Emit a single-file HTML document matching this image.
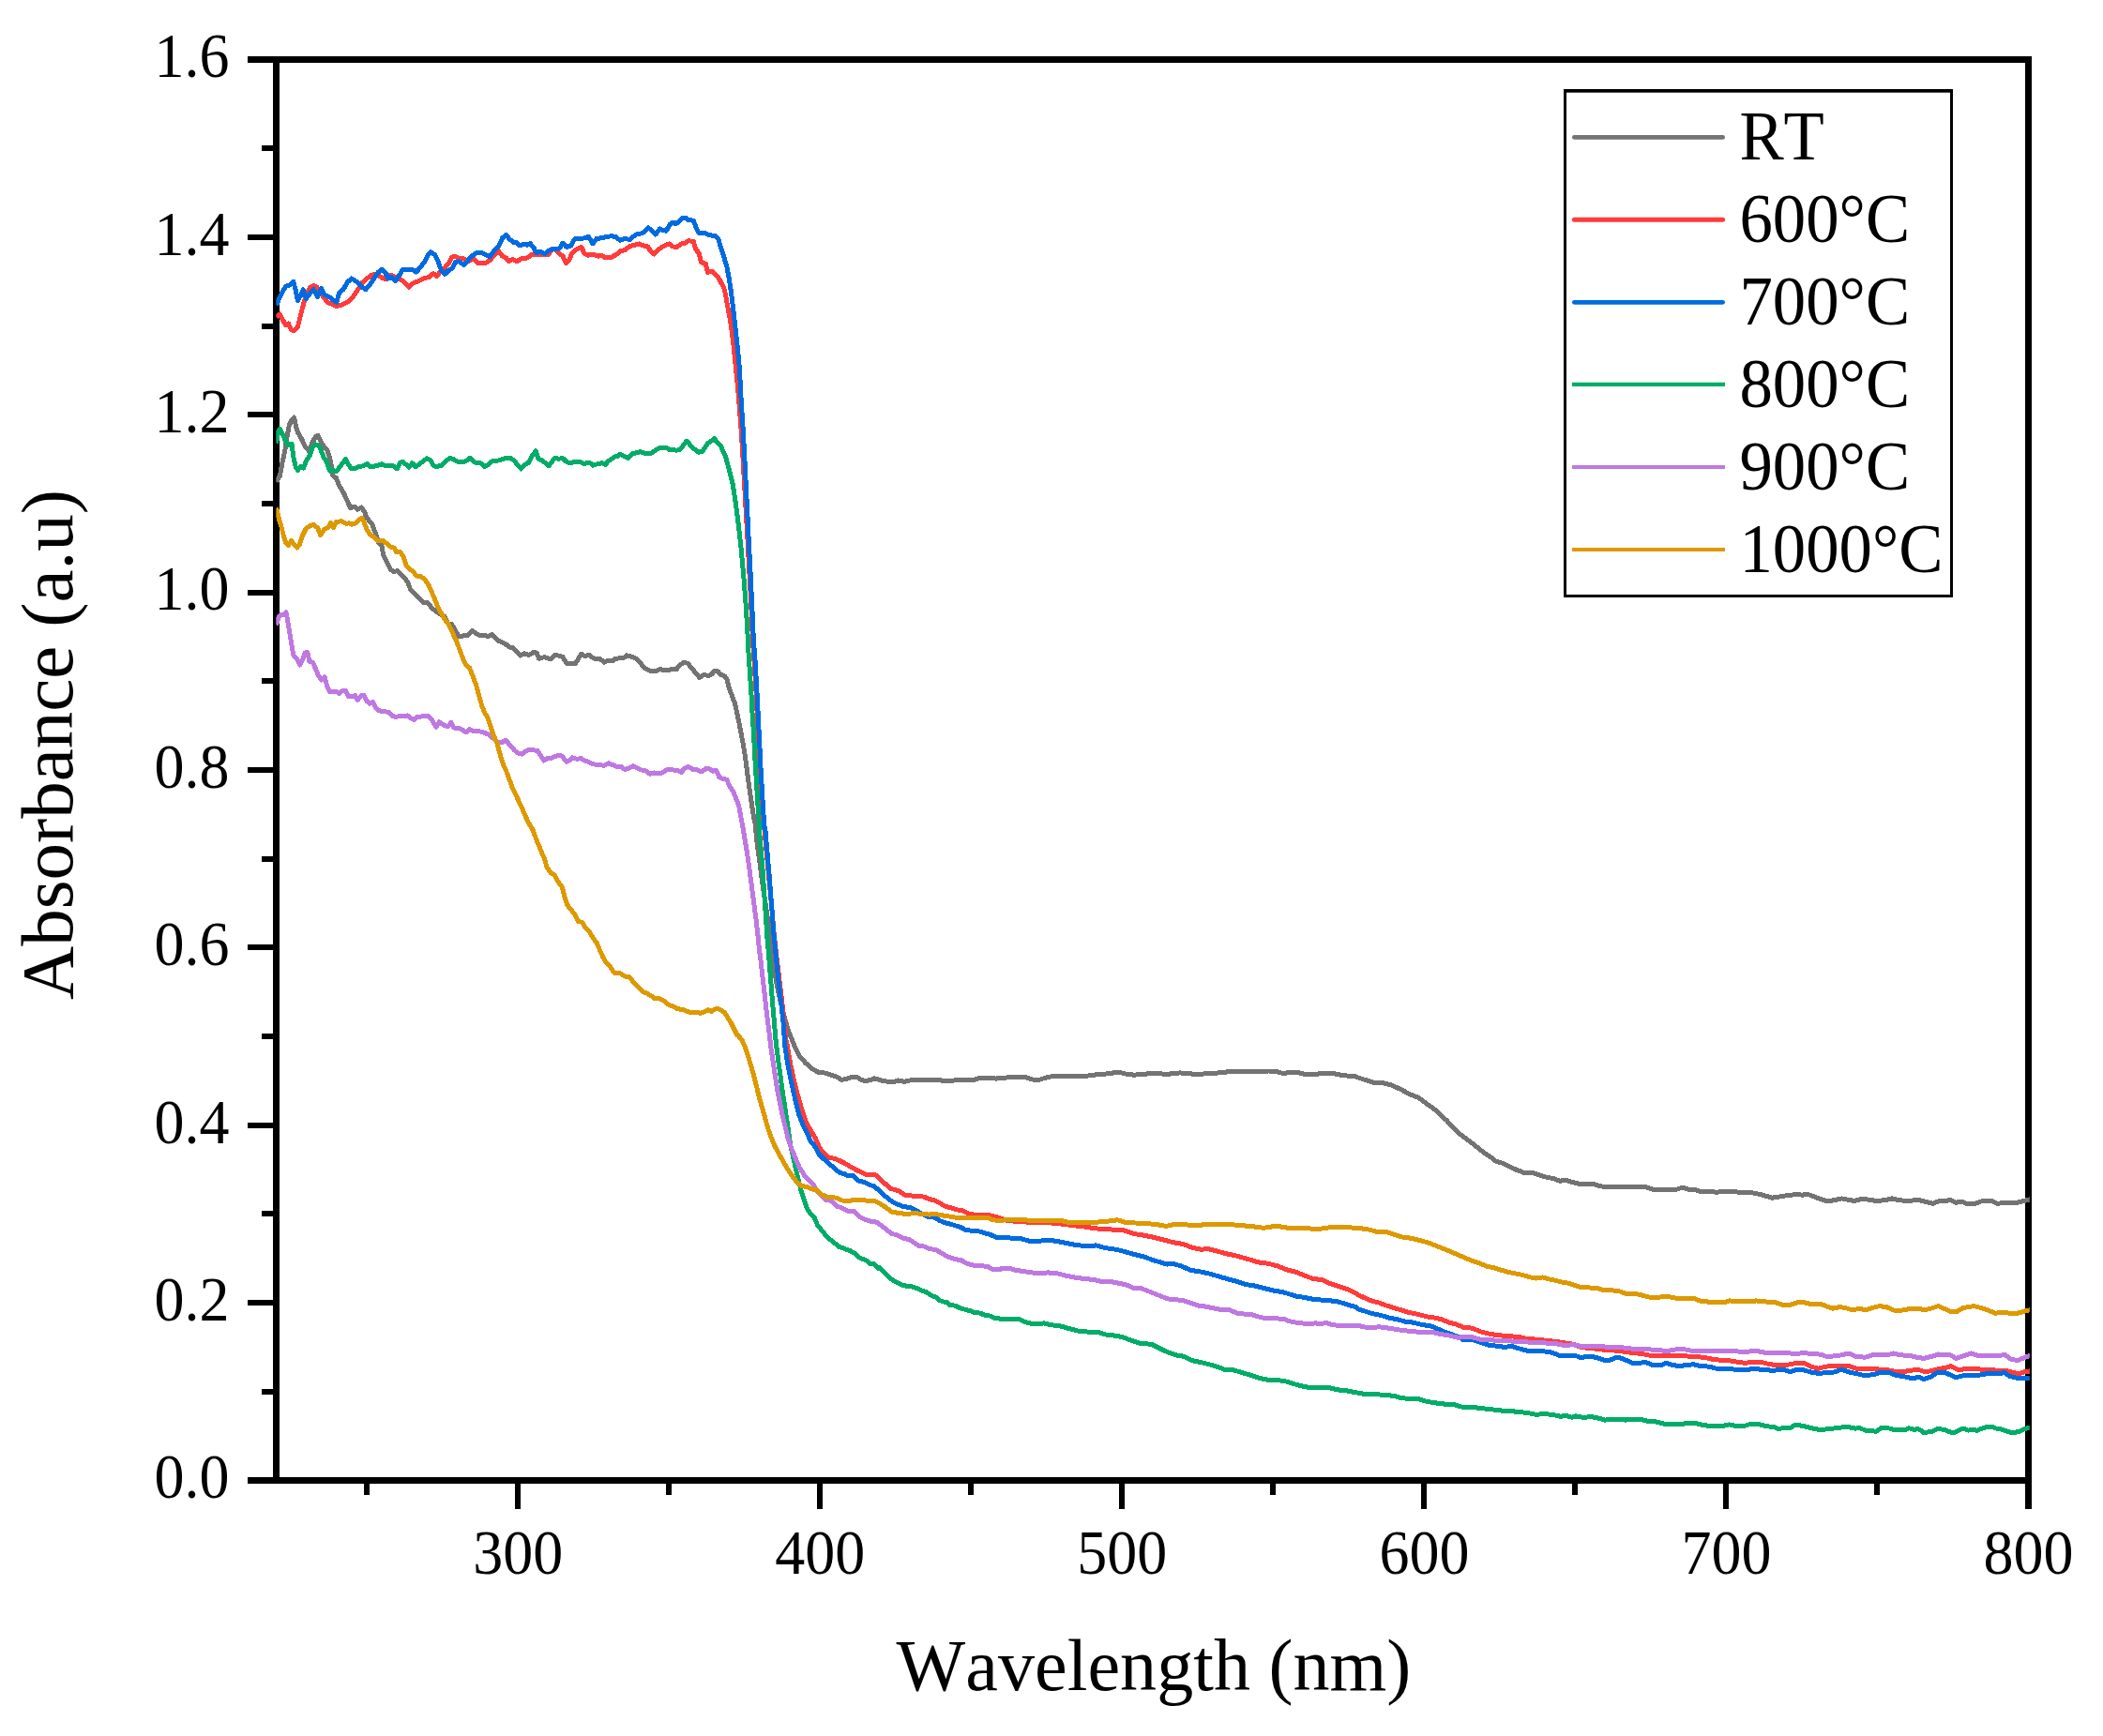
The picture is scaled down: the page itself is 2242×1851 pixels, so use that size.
<!DOCTYPE html>
<html lang="en"><head><meta charset="utf-8"><title>Absorbance vs Wavelength</title>
<style>html,body{margin:0;padding:0;background:#fff}body{width:2242px;height:1851px;overflow:hidden}svg{display:block}text{font-family:"Liberation Serif","Times New Roman",serif;fill:#000;font-kerning:none}</style>
</head><body>
<svg width="2242" height="1851" viewBox="0 0 2242 1851">
<rect x="0" y="0" width="2242" height="1851" fill="#fff"/>
<g fill="#000" shape-rendering="crispEdges">
<rect x="291" y="60" width="1875" height="7"/>
<rect x="291" y="1575" width="1875" height="7"/>
<rect x="291" y="60" width="7" height="1522"/>
<rect x="2159" y="60" width="7" height="1522"/>
<rect x="264" y="1575" width="28" height="7"/>
<rect x="279" y="1481" width="13" height="6"/>
<rect x="264" y="1386" width="28" height="6"/>
<rect x="279" y="1291" width="13" height="6"/>
<rect x="264" y="1197" width="28" height="6"/>
<rect x="279" y="1102" width="13" height="6"/>
<rect x="264" y="1007" width="28" height="6"/>
<rect x="279" y="913" width="13" height="6"/>
<rect x="264" y="818" width="28" height="6"/>
<rect x="279" y="723" width="13" height="6"/>
<rect x="264" y="629" width="28" height="6"/>
<rect x="279" y="534" width="13" height="6"/>
<rect x="264" y="439" width="28" height="6"/>
<rect x="279" y="345" width="13" height="6"/>
<rect x="264" y="250" width="28" height="6"/>
<rect x="279" y="155" width="13" height="6"/>
<rect x="264" y="60" width="28" height="7"/>
<rect x="388" y="1581" width="6" height="13"/>
<rect x="549" y="1581" width="6" height="28"/>
<rect x="710" y="1581" width="6" height="13"/>
<rect x="871" y="1581" width="6" height="28"/>
<rect x="1032" y="1581" width="6" height="13"/>
<rect x="1193" y="1581" width="6" height="28"/>
<rect x="1354" y="1581" width="6" height="13"/>
<rect x="1515" y="1581" width="6" height="28"/>
<rect x="1676" y="1581" width="6" height="13"/>
<rect x="1837" y="1581" width="6" height="28"/>
<rect x="1998" y="1581" width="6" height="13"/>
<rect x="2159" y="1581" width="7" height="28"/>
</g>
<g font-size="67">
<text transform="translate(244.4 1597.2) scale(0.955 1)" text-anchor="end">0.0</text>
<text transform="translate(244.4 1407.8) scale(0.955 1)" text-anchor="end">0.2</text>
<text transform="translate(244.4 1218.5) scale(0.955 1)" text-anchor="end">0.4</text>
<text transform="translate(244.4 1029.1) scale(0.955 1)" text-anchor="end">0.6</text>
<text transform="translate(244.4 839.7) scale(0.955 1)" text-anchor="end">0.8</text>
<text transform="translate(244.4 650.3) scale(0.955 1)" text-anchor="end">1.0</text>
<text transform="translate(244.4 460.9) scale(0.955 1)" text-anchor="end">1.2</text>
<text transform="translate(244.4 271.6) scale(0.955 1)" text-anchor="end">1.4</text>
<text transform="translate(244.4 82.2) scale(0.955 1)" text-anchor="end">1.6</text>
<text transform="translate(552.2 1678) scale(0.955 1)" text-anchor="middle">300</text>
<text transform="translate(874.2 1678) scale(0.955 1)" text-anchor="middle">400</text>
<text transform="translate(1196.3 1678) scale(0.955 1)" text-anchor="middle">500</text>
<text transform="translate(1518.4 1678) scale(0.955 1)" text-anchor="middle">600</text>
<text transform="translate(1840.4 1678) scale(0.955 1)" text-anchor="middle">700</text>
<text transform="translate(2162.5 1678) scale(0.955 1)" text-anchor="middle">800</text>
</g>
<text transform="translate(955.6 1801.6) scale(0.989 1)" font-size="79">Wavelength (nm)</text>
<text transform="translate(76.9 1065.9) rotate(-90)" font-size="79">Absorbance (a.u)</text>
<clipPath id="cp"><rect x="294.3" y="0" width="1869.5" height="1851"/></clipPath>
<g fill="none" stroke-linejoin="round" stroke-linecap="butt" clip-path="url(#cp)" shape-rendering="crispEdges">
<polyline stroke="#737373" stroke-width="5" points="294.5,513.6 298.4,507.5 300.7,494.6 303.7,480.9 306,465.6 308.3,453.5 311.3,447.4 313.6,445.1 315.6,455 317.4,461.1 321.2,467.2 325,475.5 329.3,480.9 333.4,471 336.4,465.6 339,464.1 341.7,470.2 345.5,476.3 349.3,480.9 352.4,491.5 354.7,506.7 358.5,509.8 361.5,517.4 366.1,525 369.9,533.4 373.7,541.7 378.3,540.2 381.3,543.3 385.1,541 388.9,546.3 391.2,552.4 396.5,558.5 400.3,568.4 403.4,578.3 407.2,582.8 408.7,591.9 411.7,598 416.3,607.2 419.3,609.4 423.9,608.7 427.7,612.5 431.5,616.3 434.6,620.9 437.6,628.5 442.2,633 446.7,637.6 451.3,642.2 455.9,642.9 460.4,648.2 465,652 469.6,655.1 474.1,657.4 477.9,665 481.7,665.7 485.5,672.6 489.3,678.7 493.9,677.9 499.2,677.2 503.8,672.6 507.6,675.6 512.2,677.9 516.7,677.2 520.5,678.7 524.3,676.4 528.1,680.2 531.9,684 533.5,683.9 539.5,687 542.6,690 546.4,690.3 550.2,694.6 554.8,699.1 558.6,696.8 563.9,698.4 569.2,695.3 572.3,696.1 574.5,702.2 580.6,700.6 586.7,702.9 592,698.4 595.8,699.1 600,700.4 603.8,707.3 609.1,707.3 613.7,707.3 616.7,702 619.8,697.1 623.6,699.7 628.2,698.2 632.7,702 639.6,702.3 644.1,706.2 648.7,704.2 652.5,705 656.3,702.3 661.6,701.7 665.4,701.2 668.2,698.9 673,700.1 677.6,702 682.2,706.5 687.5,712.3 692.8,715.3 698.9,716 703.5,713.4 708,714.9 712.6,714.4 717.2,713.4 721,713.8 724,709.6 729.3,706.2 733.1,707.3 736.9,711.8 741.5,717.2 745.8,722.5 750.6,719.5 755.2,720.5 759,718.7 761.3,715.6 765.1,715.6 768.9,719.5 772.7,721 775,724 777.3,733.9 780.3,741.5 783.4,749.9 785.6,759.8 787.9,770.4 790.2,782.6 792.5,794.8 794.5,806.9 796.3,820.6 797.8,832.8 799.6,845 801.6,858.7 803.6,872.4 804.8,875.2 807,898 810.1,920.9 812.4,939.1 815.4,958.9 818.5,980.2 820.7,996.9 823,1015.2 825.3,1031.9 828.3,1050.2 832.2,1068.5 836,1083.7 840.5,1098.9 844.5,1109.1 848.3,1118.3 852.8,1126.6 858.9,1133.5 865.8,1139.6 872.6,1143.4 880.2,1144.1 886.3,1146.4 892.4,1148.4 896.9,1151.4 903,1150.2 908.4,1148.4 913.7,1148.7 918.3,1151.4 922.8,1152.5 927.4,1151.7 931.9,1149.9 936.5,1151 941.1,1152.5 947.2,1153.3 953.2,1153.3 957.8,1152 963.9,1153.3 968.5,1152.5 973,1151 979.1,1151 988.2,1151 997.4,1151 1003.5,1152 1009.5,1153 1017.2,1152 1024.8,1151 1029.3,1151 1033.9,1152 1040,1151 1044.5,1149 1052.2,1149 1058.2,1149.5 1062,1150.2 1065.8,1149 1070.4,1149.5 1075,1148.7 1080,1148.4 1082.8,1148 1092.3,1148.4 1099.9,1150.9 1107.6,1151.5 1115.2,1149 1124.7,1147.1 1136.1,1147.1 1145.6,1148 1155.1,1147.7 1166.5,1146.1 1177.9,1145.2 1187.4,1143.9 1193.1,1143.3 1200.8,1145.2 1208.4,1146.1 1217.9,1145.8 1227.4,1144.2 1236.9,1144.6 1242.6,1145.8 1250.2,1144.6 1257.8,1143.9 1267.3,1144.6 1276.8,1145.8 1286.3,1144.6 1295.9,1144.2 1305.4,1143.3 1314.9,1142 1324.4,1142.3 1333.9,1142.7 1343.4,1142.3 1352.9,1142 1360.5,1142.3 1368.1,1144.6 1375.7,1143.3 1385.2,1143.9 1392.9,1145.8 1402.4,1145.2 1411.9,1144.6 1421.4,1144.6 1429,1146.1 1436.6,1147.1 1444.2,1147.7 1451.8,1150.3 1460,1152.8 1464.7,1154.6 1474.2,1154.6 1483.7,1157.1 1493.3,1161.5 1502.8,1166.6 1512.3,1170.4 1519.9,1176.1 1527.5,1181.2 1535.1,1188.1 1542.7,1195.1 1550.3,1203.7 1557.9,1210.3 1565.5,1216.1 1573.1,1221.8 1580.8,1228 1588.4,1233.2 1595,1238.3 1601.7,1240.2 1609.3,1244 1616.9,1247.4 1624.5,1250.3 1634,1250.3 1641.6,1253.1 1649.2,1255.4 1656.8,1256.6 1662.5,1259.2 1670.1,1258.5 1675.9,1260.4 1683.5,1262.3 1691.1,1262.3 1698.7,1262.3 1706.3,1264.9 1715.8,1265.5 1725.3,1265.5 1736.7,1265.5 1746.2,1265.5 1753.8,1265.5 1761.4,1268 1771,1268 1780.5,1268 1788.1,1268 1793.8,1266.1 1799.5,1268 1807.1,1268.7 1812.8,1270.3 1820.4,1270.3 1829.9,1271.2 1840,1270.3 1847.6,1270.3 1857.1,1271.8 1866.6,1271.5 1876.1,1273.4 1883.7,1275.6 1889.4,1277.2 1897,1276 1904.6,1274.7 1914.1,1273.7 1921.7,1274.1 1927.4,1273.4 1933.1,1275.6 1940.8,1278.5 1948.4,1281 1956,1279.5 1963.6,1277.9 1971.2,1279.5 1976.9,1280.4 1984.5,1278.5 1992.1,1279.1 1999.7,1280.4 2009.2,1279.8 2016.8,1277.9 2024.4,1279.8 2034,1280.4 2045.4,1279.5 2053,1281.4 2060.6,1283.3 2066.3,1281 2073.9,1280.4 2079.6,1279.5 2085.3,1282.3 2091,1281 2096.7,1283.3 2106.2,1283.3 2111.9,1281 2123.3,1280.4 2129.1,1283.3 2138.6,1282.3 2148.1,1282.9 2155.7,1281 2165.5,1278.5"/>
<polyline stroke="#FF3B3B" stroke-width="5" points="294.5,338 298.4,335 301.4,341.1 304.5,346.4 307.5,344.9 310.5,351.7 313.6,352.5 317.4,348.7 320.4,336.5 323.5,324.3 326.5,315.2 330.3,306.8 334.1,304.6 337.9,306.1 341.7,312.2 345.5,317.5 349.3,322.8 353.9,324.3 358.5,326.6 364.6,325.1 370.6,322.1 376.7,316 381.3,309.1 385.9,301.5 390.4,297.7 396.5,293.1 401.8,292.4 407.2,296.2 411.7,297.7 416.3,293.1 420.9,295.4 426.9,297.7 431.5,301.5 435.8,306.1 439.9,302.3 445.2,300 451.3,297 457.4,295.4 461.9,291.6 465.7,294.7 469.6,289.3 474.1,285.5 478.7,280.2 481.7,274.1 485.5,273.4 489.3,275.6 493.9,275.6 499.2,278.7 504.6,275.6 509.1,280.2 513.7,281 518.2,280.2 522.8,277.2 527.4,271.1 531.2,267.3 535,272.6 539.5,274.9 542.6,278.7 546.4,276.4 551,278.7 556.3,275.6 562.4,274.9 566.9,271.1 571.5,271.8 579.1,271.4 585.2,271.1 588.2,265.8 592,265 595.8,270.3 600,272.8 603.3,280.4 606.8,277.4 609.9,269.8 614.5,266 619.8,263.4 622.8,269.8 626.6,272.1 632.7,271.3 638,273.1 641.1,272.1 644.9,274.6 651.7,274.3 657.8,271 661.6,267.5 666.2,266.7 671.5,262.5 676.1,261.4 681.4,259.9 686,261.9 690.5,262.9 694,268.3 697.1,271 701.2,266.7 705.8,263.4 709.6,261.4 713.4,259.9 717.2,262.9 721.7,263.4 726.3,259.9 730.1,259.4 733.9,256.8 739.2,257.3 741.5,265.2 745.3,270.5 747.6,279.7 752.2,281.2 754.4,290.3 759,289.3 763.6,293.4 766.6,297.2 768.9,301.7 771.6,306.3 773.5,313.9 775.3,324.6 778,338.3 780.3,353.5 782.3,370.2 783.8,385.4 785.3,400.6 786.9,417.4 788.4,435.2 790.1,458 791.6,480.9 792.9,503.7 794.2,526.5 795.5,549.3 796.9,572.2 798.1,595 799.3,617.8 800.6,640.6 801.6,663.5 802.5,684 803.7,700.4 805.7,730.9 807.2,761.3 808.9,791.7 810.4,822.2 812.4,852.6 814.2,883 814.8,882.8 816.9,905.6 819.1,928.5 821.2,951.3 823.3,974.1 825.3,996.9 827.9,1019.8 830.6,1042.6 833.4,1065.4 836,1088.2 838.2,1111.1 839.4,1115.2 842.5,1133.5 846.4,1151.7 850.7,1168.5 855,1183.7 859.8,1197.4 865,1206.5 869.6,1214.1 873.4,1223.3 877.9,1229.3 883.3,1234.7 889.3,1235.1 895.4,1237.7 901.5,1240.8 907.6,1244.6 913.7,1247.9 919,1250.3 924.3,1252.9 928.9,1252.9 932.7,1252.5 936.5,1255.2 941.1,1259.8 945.6,1264 949.4,1267.4 954.8,1268.6 959.3,1270.4 965.4,1274.7 971.5,1275 979.1,1275 985.2,1276.2 989.8,1278.3 995.9,1279.9 1001.9,1282.6 1008,1286.4 1014.1,1287.9 1020.2,1289.9 1026.3,1291 1032.4,1294 1038.5,1295.1 1046.1,1295.1 1053.7,1295.5 1059.8,1297.1 1065.8,1298.6 1071.9,1300.9 1075.2,1301.7 1088.5,1302.5 1099.9,1303.6 1113.3,1303.1 1124.7,1304.4 1136.1,1305.5 1145.6,1306.9 1155.1,1307.8 1166.5,1309.7 1177.9,1310.7 1189.3,1311.2 1198.8,1312 1208.4,1315.4 1217.9,1316.9 1227.4,1318.8 1238.8,1321.5 1250.2,1324.6 1261.6,1326.5 1271.1,1330.3 1280.6,1332.2 1288.2,1331.6 1297.8,1334.1 1307.3,1336.7 1318.7,1339.2 1330.1,1342.4 1341.5,1345.9 1352.9,1347.4 1362.4,1350 1371.9,1353.8 1381.4,1356.3 1391,1360.1 1398.6,1363 1410,1364.9 1417.6,1368.3 1427.1,1371.5 1436.6,1374.8 1446.1,1379.1 1447.6,1380.6 1455.2,1384 1462.8,1387.2 1470.4,1389.1 1478,1392 1485.6,1394.3 1493.3,1396.7 1500.9,1399.2 1508.5,1400.6 1516.1,1402.5 1523.7,1404.4 1531.3,1405.3 1538,1407.2 1544.6,1410.1 1552.2,1412 1560,1415.2 1569.5,1416.2 1579,1420 1588.5,1422.4 1598,1423.8 1609.5,1424.7 1620.9,1425.7 1628.5,1427.6 1639.9,1428.2 1649.4,1429.5 1658.9,1430.4 1668.4,1432 1677.9,1433.3 1685.5,1436.5 1696.9,1437.7 1708.4,1439 1717.9,1439.6 1729.3,1440.9 1738.8,1442.2 1750.2,1443.4 1759.7,1445.3 1771.1,1445.3 1782.5,1445.3 1794,1445.6 1805.4,1446.6 1816.8,1447.2 1826.3,1449.5 1835.8,1450.4 1845.3,1451 1852.9,1452.3 1860.5,1453.3 1870,1452.3 1879.5,1452.9 1887.2,1454.8 1894.8,1455.5 1904.3,1455.5 1913.8,1453.6 1923.3,1453.6 1930.9,1457.1 1938.5,1459.3 1946.1,1457.1 1953.7,1456.7 1960,1456.1 1963.6,1456 1971.2,1456.7 1978.8,1459.2 1988.3,1459.8 1997.8,1459.2 2005.4,1460.5 2014.9,1461.1 2022.5,1463 2030.1,1462.4 2037.8,1461.1 2045.4,1460.5 2053,1463 2060.6,1461.1 2068.2,1459.2 2073.9,1458.6 2079.6,1456.7 2087.2,1460.5 2094.8,1459.8 2102.4,1459.2 2111.9,1460.1 2123.3,1460.1 2131,1462 2136.7,1461.1 2144.3,1463 2151.9,1464.9 2157.6,1463 2165.5,1461.7"/>
<polyline stroke="#006BE0" stroke-width="5" points="294.5,325.1 300.7,312.2 304.5,305.3 309,303.8 312.8,300.3 315.1,309.1 317.4,320.5 320.4,315.2 323.2,308.8 326.5,318.3 330.3,312.9 334.1,308.4 338.7,316.7 342.5,307.6 346.3,314.5 350.9,316.7 355.4,319.8 358.8,322.1 361.5,312.9 366.1,308.4 370.6,300.8 374.8,297 379.8,300 384.3,304.6 389.7,308.8 394.2,303.8 398.8,297 403.4,290.1 406.9,287.1 411,290.9 414,297 417.1,295.4 421.6,299.7 425.4,293.9 429.2,287.8 434.6,287.5 439.9,287.8 443.7,290.1 448.3,284.8 452.8,278.7 456.6,271.1 459.2,268.8 463.5,271.8 466.5,277.2 470.3,287.8 474.1,292.4 478.7,287.8 482,286.3 485.5,279.5 489.3,278.7 494.7,282.5 500,276.4 504.6,271.8 509.1,269.3 513.7,269.6 518.2,271.8 522,273.8 527.4,266.5 531.9,262 535.7,253.6 539.5,250.5 543.4,255.1 547.2,258.2 551,258.9 554,262 558.6,260.4 562.4,261.2 565.4,259.7 569.2,264.2 571.5,269.6 576.1,268 580.6,270.8 585.2,267.3 589.8,265.3 594.3,265.8 597.4,263.5 600,259.1 603.8,263.4 608.4,262.2 612.9,254.6 617.5,254.9 622.8,253.8 627.4,252.3 632,259.9 635.8,254.6 641.1,253.8 647.2,252.3 651.7,251.8 656.3,252.3 660.9,256.1 665.4,254.6 671.5,255.3 677.6,250.3 683.7,248.8 687.5,247 691,242.7 695.1,246.2 698.9,250 703.5,243.9 706.5,245.7 710.3,246.2 714.1,239.3 717.2,237.1 720.2,238.6 724,236.3 727.5,232.5 730.9,232 733.9,234.8 739.2,235.1 742.3,243.1 745.3,248.5 750.6,248.2 756.7,250.8 762.8,251.5 765.9,255.3 768.9,265.2 771.9,274.3 775,285 777.3,297.2 779.6,312.4 781.8,330.6 784.1,350.4 786.4,371.7 788.4,393 789.4,412.8 790.4,431.1 790.7,435.2 792.2,458 793.4,480.9 794.6,503.7 795.7,526.5 796.9,549.3 798,572.2 799.2,595 800.4,617.8 801.5,640.6 802.5,663.5 803.4,684 804.8,700.4 806.6,730.9 808.2,761.3 809.7,791.7 811.2,822.2 813,852.6 814.9,883 815.7,882.8 817.7,905.6 819.7,928.5 821.5,951.3 823.3,974.1 825,996.9 827.3,1019.8 829.6,1042.6 832.2,1065.4 834.9,1088.2 836.8,1115.2 839.1,1130.4 842.2,1147.2 845.2,1160.9 848.3,1174.6 852.1,1189.8 855.9,1198.9 860.4,1208 864.2,1217.2 869.6,1223.3 873.4,1230.9 878.7,1236.2 884,1240.8 889.3,1245.3 895.4,1250.6 900,1251.4 903.8,1254 909.9,1253.7 915.2,1259 921.3,1260.5 927.4,1263.6 931.9,1264.6 936.5,1268.9 941.8,1274.2 946.4,1277.3 951.7,1281.8 956.3,1283.8 962.4,1286.4 970,1287.5 974.6,1289.4 979.9,1292.5 985.2,1295.5 989.8,1297.5 995.9,1297.8 1001.9,1301.6 1008,1303.9 1014.1,1305.4 1018.7,1306.9 1024,1308.5 1029.3,1311.2 1035.4,1312.3 1043,1312.7 1049.1,1314.6 1055.2,1316.1 1061.3,1319.1 1067.4,1319.4 1069.5,1319.2 1079,1320.2 1088.5,1320.7 1098,1323.4 1107.6,1323.4 1116.1,1322.1 1126.6,1323.4 1136.1,1325.3 1145.6,1327.2 1155.1,1328.4 1163.7,1328.7 1168.4,1327.8 1177.9,1330.6 1189.3,1332.2 1198.8,1334.4 1208.4,1337.3 1219.8,1340.1 1229.3,1343.6 1236.9,1345.9 1244.5,1348.1 1250.2,1347.4 1259.7,1350 1269.2,1354.4 1278.7,1355.7 1290.1,1358.2 1299.7,1361.1 1309.2,1363.9 1318.7,1366.4 1328.2,1369.6 1337.7,1371 1347.2,1373.4 1356.7,1375.9 1368.1,1377.8 1381.4,1382 1391,1383.5 1402.4,1385.8 1413.8,1386.2 1427.1,1388.1 1436.6,1391.1 1446.1,1393.8 1447.6,1395.8 1455.2,1398.1 1462.8,1400.6 1472.3,1402.5 1481.8,1405.3 1491.4,1407.2 1499,1409.5 1506.6,1410.1 1516.1,1412.5 1525.6,1413.9 1531.3,1416.3 1538.9,1419.6 1546.5,1422.4 1554.1,1425.3 1560,1428.5 1571.4,1428.9 1579,1431.4 1586.6,1434.2 1596.1,1435.2 1604.7,1436.5 1610.4,1435.2 1619,1437.7 1628.5,1440.3 1641.8,1440.3 1653.2,1441.8 1662.7,1445.3 1672.2,1445.6 1679.8,1445.6 1685.5,1447.6 1693.1,1446 1700.8,1447.2 1710.3,1450.4 1716,1450.4 1721.7,1447.9 1727.4,1447.9 1735,1451 1740.7,1453.3 1748.3,1453.3 1754,1452.3 1761.6,1455.5 1771.1,1455.5 1775.9,1453.3 1782.5,1455.2 1790.1,1456.7 1797.8,1455.5 1805.4,1454.8 1813,1456.7 1822.5,1457.1 1830.1,1459.3 1841.5,1459.3 1852.9,1460.5 1862.4,1460.5 1870,1459.3 1879.5,1460.5 1889.1,1461.2 1902.4,1460.5 1908.1,1462.8 1913.8,1460.9 1923.3,1460.9 1930.9,1463.1 1938.5,1464.3 1948,1463.7 1957.5,1462.8 1960,1461.2 1963.6,1460.5 1971.2,1463 1980.7,1464.9 1988.3,1466.8 1997.8,1465.5 2005.4,1463 2013,1463 2020.6,1466.2 2030.1,1467.8 2039.7,1470 2045.4,1468.1 2051.1,1470.6 2058.7,1467.8 2066.3,1463 2073.9,1463.6 2079.6,1466.2 2085.3,1468.7 2092.9,1466.8 2102.4,1466.8 2111.9,1465.9 2121.4,1464 2129.1,1464.9 2136.7,1463.6 2142.4,1467.4 2150,1469.3 2157.6,1469.3 2165.5,1469.3"/>
<polyline stroke="#00AC68" stroke-width="5" points="294.5,472.5 296.8,459.6 298.4,457.3 301.4,463.4 305.2,471.7 308.3,474.8 311,473.3 312.8,487 315.1,497.6 317.4,501.4 320.4,497.6 323.5,499.1 326.5,491.5 330.3,485.4 333.4,476.3 336.4,474 339.5,474.8 342.5,480.9 345.5,488.5 348.6,493 351.6,502.2 355.4,501.4 358.5,502.9 362.3,497.6 366.1,493 368.4,489.2 371.4,495.3 374.5,499.9 378.3,499.9 382.1,497.6 387.4,496.8 391.2,494.6 395,497.6 401.1,496.8 407.2,494.9 411.7,496.8 419.3,496.8 423.1,499.9 426.2,493.8 429.2,492.3 433,495.3 436.1,498.4 439.4,493.8 442.9,497.6 446.7,495.3 451.3,491.5 455.1,488.8 458.9,490.8 461.9,496.1 465,497.6 471.1,496.1 475.6,491.5 480.2,488.2 484,490 487.8,492.3 493.9,493 497.7,490.8 500.7,488.2 504.6,491.5 507.6,493.8 512.2,493.8 516.7,497.6 520.5,495.3 525.1,491.5 530.4,491.2 535,490 539.5,488.2 544.1,488.5 548.7,491.5 551.7,496.1 555.5,499.9 558.6,496.1 563.9,493 567.7,485.4 571.2,480.9 573.8,489.2 577.6,490.8 581.4,493.8 585.2,496.8 589,491.5 591.3,488.5 595.8,489.2 600,488.5 603.8,492.3 607.6,493.8 613.7,492.3 618.3,492.3 622.8,494.6 628.2,493 632,496.1 637.3,494.6 641.8,493.8 645.6,495.3 648.7,491.5 652.5,489.2 655.5,487 658.6,486.6 660.9,484.2 664.7,486.2 670,488.5 673.8,483.9 678.4,482.7 682.9,481.6 688.3,483.9 694.3,483.1 698.9,480.1 703.5,477.5 710.3,477.5 714.1,479.6 721,480.1 724.8,479.6 728.6,474.8 732.1,470.2 735.4,474 740,478.6 744.6,482.1 748.4,481.6 752.2,476.3 754.4,472.5 758.3,470.2 761.6,467.2 764.3,471.7 768.1,474.8 770.4,480.1 773.5,487 775.7,494.6 778,503.7 780.8,514.3 782.6,525 784.4,537.2 786.4,552.4 788.4,569.1 790.2,585.9 791.7,602.6 793.2,619.3 794.5,636.1 795.7,652.8 796.6,669.5 797.5,684 797.8,692.8 799.3,715.6 800.9,738.5 802.1,761.3 803.6,784.1 804.8,806.9 806.2,829.8 807.6,852.6 809.1,875.4 809.3,882.8 811.2,905.6 813.1,928.5 814.7,951.3 816.2,974.1 817.7,996.9 819.7,1019.8 821.5,1042.6 823.3,1065.4 825.3,1088.2 826.8,1106.5 827.7,1115.2 829.7,1130.4 831.8,1145.6 833.8,1160.9 836.1,1176.1 838.4,1191.3 840.6,1206.5 842.9,1221.7 846,1235.4 849,1249.1 852.1,1261.3 854.3,1270.4 857.4,1279.6 860.4,1288.7 864.2,1294 868,1297.8 871.8,1306.9 877.2,1313 881.7,1319.1 887.8,1323.7 893.9,1329 900,1331.3 906.1,1333.6 910.6,1335.9 916.7,1341.2 922.8,1343.5 927.4,1347.3 931.9,1347.7 936.5,1352.6 937.6,1351.4 943.7,1357.5 949.8,1363.6 955.9,1367.4 962,1370.1 968,1371.6 972.6,1372 977.2,1373.5 981.7,1375.8 987.8,1377.7 992.4,1381.1 997.7,1383 1002.3,1386.8 1006.8,1388.3 1009.9,1388.7 1012.9,1391.7 1018.3,1392.1 1022.8,1394.4 1028.9,1396.3 1035,1397.8 1039.6,1399.7 1044.9,1400.1 1050.2,1402.4 1055.5,1403.1 1059.3,1405 1060,1405.2 1067.6,1406.3 1077.1,1406.7 1086.6,1406.7 1094.2,1410.1 1103.7,1412 1113.3,1410.9 1120.9,1412.8 1130.4,1413.9 1139.9,1416.6 1149.4,1419.1 1158.9,1420 1170.3,1420 1177.9,1422.9 1189.3,1424.2 1196.9,1425.7 1206.5,1429.5 1216,1432.4 1227.6,1433.3 1235.2,1437.1 1244.7,1441.8 1254.2,1445 1261.8,1446.2 1271.4,1450.8 1280.9,1452.7 1290.4,1455.1 1299.9,1458 1305.6,1460.3 1315.1,1460.8 1324.6,1463.7 1334.1,1466.5 1341.7,1469 1349.3,1470.9 1358.8,1471.7 1368.4,1472.2 1377.9,1475.1 1385.5,1477.4 1395,1479.3 1404.5,1479.3 1415.9,1479.3 1425.4,1481.8 1434.9,1482.7 1444.4,1484.6 1457.8,1486.9 1469.2,1486.9 1478.7,1487.5 1488.2,1488.8 1493.9,1490.7 1501.5,1491.3 1511,1491.3 1518.6,1493.7 1528.1,1495.6 1539.5,1497 1551,1497.9 1558.6,1500.2 1568.1,1500.2 1577.6,1501.4 1589,1502.7 1600.4,1504 1609.9,1504.6 1620,1505.5 1628.5,1506.5 1638,1508.4 1645.6,1507.5 1655.1,1508.4 1663.7,1510.3 1669.4,1509.4 1676,1511.3 1679.8,1509.9 1687.4,1511.3 1696.9,1510.7 1704.6,1512.2 1711.2,1514.1 1717.9,1513.2 1727.4,1513.2 1733.1,1514.1 1738.8,1513.2 1748.3,1513.2 1755.9,1515.1 1765.4,1516 1774.9,1518.3 1784.4,1518.3 1794,1518.3 1799.7,1517 1805.4,1517 1813,1518.9 1820.6,1520.2 1830.1,1520.2 1837.7,1520.2 1843.4,1518.9 1849.1,1520.2 1860.5,1520.2 1866.2,1518.3 1873.8,1518.3 1883.3,1520.8 1891,1521.4 1895.7,1523.6 1900.5,1522.7 1908.1,1522.7 1913.8,1519.4 1921.4,1520.2 1930.9,1522.7 1940.4,1524.6 1949.9,1523.6 1960,1522.5 1964,1521.8 1969,1521.5 1974,1522.2 1978,1523.2 1982,1522.5 1986,1524 1990,1525.4 1995,1525.4 1999.9,1526.4 2002.9,1524.5 2005.9,1522.2 2009.9,1522.5 2013.9,1523 2017.9,1524 2019.9,1524.8 2023.9,1524 2027.9,1524.5 2030.9,1524.5 2034.9,1522.8 2038.9,1523.5 2040.9,1524.8 2043.9,1523.5 2046.9,1524.5 2049.9,1527.1 2052.9,1527.7 2055.9,1526.7 2059.9,1526.1 2063.9,1524.5 2066.3,1523.2 2069.8,1524 2072.8,1524.5 2076.8,1526.1 2080.8,1527.4 2084.8,1527.1 2088.8,1525 2092.3,1523.2 2095.3,1524 2098.3,1525.1 2101.8,1524.5 2105.8,1524.5 2107.8,1525.4 2111.8,1523.5 2115.8,1522.2 2119.8,1521.2 2123.8,1521 2127.8,1523 2131.8,1523.5 2135.7,1524.5 2139.7,1526.1 2143.7,1527.4 2147.7,1527.4 2152.7,1526.4 2156.7,1524.5 2160.7,1522.8 2165.5,1521.8"/>
<polyline stroke="#BF78E2" stroke-width="5" points="294.5,666.4 296.8,658.8 299.1,655.8 302.2,655.8 304.9,652.7 306.4,659.6 308,670.2 309.8,680.9 311.6,691.5 312.8,698.4 316.6,702.2 319.7,709 322.7,702.9 325.3,696.1 327.7,695.3 329.9,705.2 333.4,706.4 336.4,712.8 339.5,720.4 342.5,725 346,721.6 348.6,731.1 351.6,737.9 356.2,737.9 358.5,737.2 361.5,739.4 365.3,736.4 368.4,736.4 371.4,742.5 375.2,742.9 378.3,741.7 381.3,746.3 385.1,741.7 388.1,741.4 391.2,747.8 394.2,750.1 397.3,748.6 400.3,753.9 404.1,757.7 409.4,758.8 414,759.2 417.8,763 421.6,764.6 426.9,763.3 430.8,763.8 434.6,763 438.4,766.1 441.4,767.3 445.2,764.3 451.3,763.8 456.6,763.8 460.4,767.6 465,775.2 468.3,769.9 472.6,772.9 477.2,774.9 481,770.3 484,776 489.3,776.4 493.1,778.3 496.9,781 500.7,777.5 504.6,779.5 509.1,779.8 513.7,780.1 518.2,782.1 522,783.6 525.9,787.4 530.4,791.2 535,791.6 539.5,789.2 543.4,794.2 548.7,800.3 553.2,803.4 556.3,804.1 560.1,801.1 563.9,799.2 568.5,799.9 573,800.3 576.1,804.9 579.9,811 583.7,808.7 587.5,808.7 592,806.4 596.6,805.3 600,806.9 603.8,812.3 606.8,810.8 609.9,807.7 614.5,809.2 619.8,808.8 622.8,810.8 627.4,812.3 632.7,814.9 638,815.3 644.1,816.4 648.7,813.8 652.5,815.3 657.1,817.3 662.4,817.6 666.2,820.6 670,819.1 674.6,816.8 678.4,818.4 682.9,820.9 687.5,821.4 692.8,825.2 697.4,824 703.5,824.9 706.5,823.7 710.3,820.9 717.2,820.9 721.7,821.4 726.3,823.4 730.1,819.1 733.9,817.6 738.5,820.3 743,820.6 747.6,822.9 752.2,819.9 756.7,819.9 759.8,822.2 763.6,821.4 766.6,828.3 770.4,830.5 775,831.3 777.3,837.4 781.8,844.2 784.9,851.8 787.9,860.2 789.5,869.1 791.8,881.3 794.1,895 796.4,908.7 798.4,922.4 800.2,936.1 802,949.8 804,965 806,980.2 807.8,995.4 809.3,1010.6 811.2,1025.9 813.1,1042.6 815.1,1059.3 816.9,1076.1 818.8,1091.3 820.7,1106.5 821.6,1115.2 823.9,1130.4 826.2,1145.6 828.5,1160.9 831.5,1176.1 834.6,1191.3 837.6,1203.5 840.6,1215.6 844.5,1226.3 848.3,1235.4 852.1,1244.6 857.4,1252.9 862.7,1259 867.3,1263.6 871.1,1270.4 875.6,1275 880.2,1279.2 886.3,1280.3 892.4,1286.4 896.9,1287.5 903,1291 909.9,1291 913.7,1294.8 918.3,1298.6 924.3,1300.9 928.9,1302.7 935,1303.1 939.6,1306.9 944.9,1310.7 950.2,1315.3 956.3,1316.8 962.4,1319.9 970,1321.9 974.6,1324.9 979.1,1328.2 985.2,1329 991.3,1331.6 997.4,1332.5 1003.5,1335.9 1009.5,1339.7 1018.7,1342.7 1024.8,1343.8 1030.9,1347.3 1038.5,1349.2 1046.1,1349.5 1053.7,1350.8 1058.2,1353.4 1065.8,1353.8 1067.6,1352.5 1077.1,1352.5 1082.8,1354.4 1090.4,1355.4 1099.9,1356.9 1109.5,1357.6 1117.1,1356.9 1126.6,1357.6 1136.1,1360.1 1145.6,1362 1155.1,1363.4 1166.5,1364.5 1176,1366.8 1185.5,1366.8 1195,1368.7 1202.7,1370.6 1208.4,1373.4 1216,1373.4 1225.5,1377.2 1235,1381 1244.5,1384.8 1252.1,1385.8 1259.7,1386.2 1269.2,1389.2 1276.8,1391.9 1284.4,1393 1294,1394.9 1303.5,1396.8 1311.1,1396.8 1318.7,1400.1 1326.3,1401 1333.9,1401.4 1341.5,1403.9 1349.1,1405.8 1358.6,1405.8 1368.1,1406.3 1375.7,1409 1383.3,1410.5 1394.8,1411.5 1402.4,1410.9 1408.1,1411.5 1413.8,1410.5 1419.5,1412.4 1427.1,1413.4 1438.5,1413.4 1449.9,1413.9 1459,1415.8 1470.4,1414.8 1481.8,1416.3 1493.3,1418.2 1504.7,1419.6 1516.1,1420.5 1525.6,1420.1 1535.1,1422.4 1544.6,1423.9 1554.1,1426.2 1560,1425.7 1569.5,1425.7 1579,1428.5 1590.4,1428.9 1601.8,1429.5 1613.3,1430.1 1624.7,1430.8 1636.1,1431.4 1647.5,1432 1658.9,1432.7 1666.5,1434.2 1677.9,1433.9 1687.4,1435.8 1696.9,1435.8 1708.4,1435.8 1716,1436.5 1727.4,1436.5 1738.8,1438 1750.2,1438.4 1759.7,1439 1769.2,1439.9 1778.7,1440.3 1786.3,1439 1794,1438.4 1803.5,1440.3 1813,1440.9 1822.5,1440.3 1832,1440.9 1841.5,1440.3 1851,1440.9 1860.5,1441.5 1871.9,1440.3 1881.4,1442.2 1892.9,1442.2 1902.4,1442.2 1911.9,1443.4 1923.3,1442.8 1932.8,1443.4 1940.4,1444.1 1946.1,1446 1953.7,1446 1960,1445.6 1963.6,1444.6 1971.2,1443 1978.8,1446.5 1988.3,1447.2 1995.9,1444.9 2005.4,1444.9 2013,1444.6 2018.7,1443 2026.3,1444.9 2035.9,1445.3 2043.5,1447.2 2051.1,1448.4 2058.7,1446.5 2066.3,1444 2073.9,1444.9 2079.6,1444.9 2085.3,1448.4 2092.9,1445.9 2101.5,1443 2108.1,1445.3 2119.5,1445.3 2131,1445.3 2137.6,1444.6 2144.3,1449.7 2151.9,1450.3 2157.6,1447.8 2165.5,1444.9"/>
<polyline stroke="#DD9900" stroke-width="5" points="294.5,541.7 297.6,553.9 299.9,561.5 302.2,570.6 304.5,578.3 307.5,581.3 310.5,576.7 313.6,580.5 316.6,584 319.7,579.8 322.7,570.6 326.5,563 330.3,560.8 334.1,559.2 338.7,563 341.7,570.6 345.5,564.6 350.1,562.3 352.4,557.7 355.4,562.3 358.5,556.2 364.6,555.9 369.1,558.5 372.2,557.7 375.2,559.2 379,557.7 382.8,553.9 385.9,552.4 388.1,556.9 391.2,564.6 394.2,569.9 398,572.2 402.6,576.7 407.9,576 412.5,579.8 416.3,582.8 420.1,584.3 423.1,588.9 426.9,588.6 430,593.5 433,602.6 436.1,606.4 439.9,608.7 443.7,614 449,614.8 453.6,618.6 457.4,624.7 460.4,631.5 463.5,639.1 466.5,646.7 470.3,653.6 474.1,660.4 478.7,666.5 481.7,672.6 484.8,680.2 486.3,682.4 490.1,693 493.9,702.9 496.9,709 500.7,712.1 503.8,720.4 507.6,730.3 510.6,741.7 513.7,752.4 516.7,760 519.8,764.6 522.8,773.7 525.9,783.6 529.7,791.9 532.7,802.6 535.7,813.2 539.5,821.6 543.4,832.3 547.2,842.2 551.7,851.3 556.3,861.2 560.9,871.8 563.6,877.5 568.2,885.1 572,895.8 576.5,906.4 580.3,915.5 583.4,925.4 587.2,930.8 591,933 594.8,939.9 599.3,946 601.6,955.1 604.7,965 609.2,970.3 613,975.6 616.8,982.5 620.6,983.3 623.7,988.6 628.3,993.1 632.1,1000 636.6,1006.1 639.7,1013.7 642.7,1020.5 645.8,1025.9 650.3,1030.4 654.9,1037.3 661,1037.7 665.5,1040.8 670.9,1041.8 675.4,1047.2 680.8,1052.5 684.6,1057.1 689.9,1059.3 693.7,1061.6 698.3,1064.7 702.8,1064.7 707.4,1066.9 711.9,1070.7 717.3,1073 722.6,1075.8 727.9,1076.4 732.5,1078.4 737.8,1079.9 742.4,1079.1 746.9,1080.3 750.7,1079.1 754.6,1076.8 758.4,1078.4 762.2,1076.1 765.2,1075.3 769,1077.3 772.8,1079.9 775.9,1085.2 779.7,1091.3 782.7,1097.4 785.7,1103.5 786.6,1103.8 791.2,1109.1 795,1118.3 798,1127.4 801.1,1138 804.1,1148.7 807.2,1160.9 810.2,1173 813.3,1183.7 816.3,1194.3 819.3,1205 822.4,1213.4 826.2,1222.5 830.8,1230.9 835.3,1239.2 839.9,1246.8 844.5,1253.7 849,1259.8 854.3,1264.3 860.4,1265.6 866.5,1268.1 871.1,1268.6 875.6,1273.5 881.7,1276.2 887.8,1276.8 892.4,1277.3 896.9,1279.9 904.6,1280.8 910.6,1279.2 919.8,1279.2 924.3,1280.3 931.9,1280.3 938,1283.4 944.1,1287.2 950.2,1292 956.3,1293.2 962.4,1294 966.9,1294.8 973,1293.6 979.1,1294 986.7,1294.8 991.3,1295.1 995.9,1294 1001.9,1295.5 1009.5,1296.6 1018.7,1298.1 1027.8,1298.6 1036.9,1298.6 1046.1,1298.1 1053.7,1298.6 1058.2,1300.9 1065.8,1301.2 1080,1300.6 1084.7,1300.2 1098,1301.2 1113.3,1301.2 1130.4,1301.2 1138,1303.1 1147.5,1303.6 1158.9,1303.1 1170.3,1303.1 1181.7,1302.1 1191.2,1300.8 1198.8,1303.1 1210.3,1304 1221.7,1304.4 1235,1305.9 1243.5,1307.4 1250.2,1305.9 1257.8,1305.5 1265.4,1305.9 1273,1306.9 1282.5,1305.9 1294,1305.5 1305.4,1305.9 1314.9,1305.9 1326.3,1306.9 1335.8,1307.8 1347.2,1309.3 1356.7,1307.8 1364.3,1307.8 1375.7,1309.7 1387.2,1309.3 1398.6,1310.1 1408.1,1310.1 1417.6,1308.8 1427.1,1308.2 1436.6,1308.8 1448,1309.3 1460,1311.2 1468.5,1313.6 1478,1313.6 1485.6,1315.9 1493.3,1318.8 1500.9,1319.7 1508.5,1321.2 1516.1,1323.1 1523.7,1325.4 1531.3,1328.3 1538.9,1331.5 1546.5,1334.6 1554.1,1337.8 1561.7,1341 1569.3,1344.4 1576.9,1346.7 1584.6,1350.1 1592.2,1351.7 1599.8,1354 1607.4,1356.2 1615,1357.8 1622.6,1359.3 1630.2,1361.6 1637.8,1363.1 1644.5,1361.9 1651.1,1363.8 1658.7,1365.4 1666.3,1367.3 1672,1368.2 1679.7,1370.7 1685.4,1372.6 1691.1,1372 1696.8,1373.4 1702.5,1373.4 1710.1,1375.8 1717.7,1375.8 1725.3,1376.4 1732.9,1379.1 1740.5,1379.6 1748.1,1380.2 1755.7,1382.5 1763.3,1384 1771,1382.9 1778.6,1382.5 1786.2,1384 1795.7,1384 1805.2,1384 1812.8,1387.2 1822.3,1388.2 1831.8,1388.6 1840,1388.2 1843.7,1386.9 1853.3,1387.9 1864.7,1387.9 1872.3,1386.9 1881.8,1387.9 1893.2,1388.8 1900.8,1391.3 1908.4,1391.3 1916,1388.8 1921.7,1388.3 1931.2,1390.7 1940.8,1390.2 1948.4,1393.2 1954.1,1395.1 1961.7,1393.6 1969.3,1395.1 1975,1397 1982.6,1395.1 1988.3,1397 1995.9,1394.5 2003.5,1392.6 2011.1,1393.6 2018.7,1397 2028.2,1397 2035.9,1395.5 2045.4,1395.1 2051.1,1397 2058.7,1395.1 2066.3,1392.6 2072,1395.1 2079.6,1398.3 2085.3,1398.9 2092.9,1394.5 2098.6,1393.6 2104.3,1392.6 2111.9,1394.5 2119.5,1397 2127.2,1400.2 2136.7,1399.3 2146.2,1400.8 2153.8,1399.7 2159.5,1397.8 2165.5,1396.4"/>
</g>
<rect x="1667" y="95" width="415" height="542" fill="#fff"/>
<g fill="#000">
<rect x="1667" y="95" width="415" height="3.7"/>
<rect x="1667" y="634" width="415" height="3"/>
<rect x="1667" y="95" width="3" height="542"/>
<rect x="2079" y="95" width="3" height="542"/>
</g>
<g font-size="74">
<line x1="1678.4" y1="146.4" x2="1836.6" y2="146.4" stroke="#737373" stroke-width="4.8" stroke-linecap="round"/>
<text transform="translate(1854.4 170.4) scale(0.957 1)">RT</text>
<line x1="1678.4" y1="234.3" x2="1836.6" y2="234.3" stroke="#FF3B3B" stroke-width="5" stroke-linecap="round"/>
<text transform="translate(1854.4 258.3) scale(0.957 1)">600°C</text>
<line x1="1678.4" y1="322.3" x2="1836.6" y2="322.3" stroke="#006BE0" stroke-width="4.8" stroke-linecap="round"/>
<text transform="translate(1854.4 346.3) scale(0.957 1)">700°C</text>
<line x1="1676" y1="409.9" x2="1839" y2="409.9" stroke="#00AC68" stroke-width="4.2" stroke-linecap="butt"/>
<text transform="translate(1854.4 433.9) scale(0.957 1)">800°C</text>
<line x1="1676" y1="497.9" x2="1839" y2="497.9" stroke="#BF78E2" stroke-width="4" stroke-linecap="butt"/>
<text transform="translate(1854.4 521.9) scale(0.957 1)">900°C</text>
<line x1="1676" y1="586" x2="1839" y2="586" stroke="#DD9900" stroke-width="4" stroke-linecap="butt"/>
<text transform="translate(1854.4 610) scale(0.957 1)">1000°C</text>
</g>
</svg></body></html>
